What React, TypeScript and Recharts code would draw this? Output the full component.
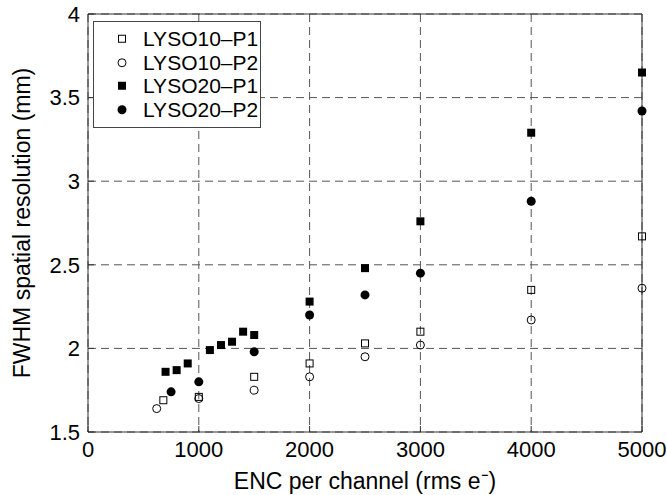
import React from 'react';
import {
  ScatterChart,
  Scatter,
  XAxis,
  YAxis,
  CartesianGrid,
  Legend,
  Label
} from 'recharts';

// Values
const encTicks = [0, 1000, 2000, 3000, 4000, 5000];
const fwhmTicks = [1.5, 2, 2.5, 3, 3.5, 4];

const lyso10p1Enc = [680, 1000, 1500, 2000, 2500, 3000, 4000, 5000];
const lyso10p1Fwhm = [1.69, 1.71, 1.83, 1.91, 2.03, 2.1, 2.35, 2.67];

const lyso10p2Enc = [620, 1000, 1500, 2000, 2500, 3000, 4000, 5000];
const lyso10p2Fwhm = [1.64, 1.7, 1.75, 1.83, 1.95, 2.02, 2.17, 2.36];

const lyso20p1Enc = [700, 800, 900, 1100, 1200, 1300, 1400, 1500, 2000, 2500, 3000, 4000, 5000];
const lyso20p1Fwhm = [1.86, 1.87, 1.91, 1.99, 2.02, 2.04, 2.1, 2.08, 2.28, 2.48, 2.76, 3.29, 3.65];

const lyso20p2Enc = [750, 1000, 1500, 2000, 2500, 3000, 4000, 5000];
const lyso20p2Fwhm = [1.74, 1.8, 1.98, 2.2, 2.32, 2.45, 2.88, 3.42];

const toPoints = (xs: number[], ys: number[]) => xs.map((x, i) => ({ x, y: ys[i] }));

// marker drawers
const openSquare = (cx: number, cy: number) => (
  <rect x={cx - 3.5} y={cy - 3.5} width={7} height={7} fill="none" stroke="#000" strokeWidth={1} />
);
const openCircle = (cx: number, cy: number) => (
  <circle cx={cx} cy={cy} r={4} fill="none" stroke="#000" strokeWidth={1} />
);
const filledSquare = (cx: number, cy: number) => (
  <rect x={cx - 4} y={cy - 4} width={8} height={8} fill="#000" />
);
const filledCircle = (cx: number, cy: number) => (
  <circle cx={cx} cy={cy} r={4.5} fill="#000" />
);

const series = [
  { name: 'LYSO10\u2013P1', data: toPoints(lyso10p1Enc, lyso10p1Fwhm), draw: openSquare },
  { name: 'LYSO10\u2013P2', data: toPoints(lyso10p2Enc, lyso10p2Fwhm), draw: openCircle },
  { name: 'LYSO20\u2013P1', data: toPoints(lyso20p1Enc, lyso20p1Fwhm), draw: filledSquare },
  { name: 'LYSO20\u2013P2', data: toPoints(lyso20p2Enc, lyso20p2Fwhm), draw: filledCircle }
];

const axisColor = '#333';
const tickStyle = { fill: '#000', fontSize: 22 };

const renderLegend = () => (
  <div
    style={{
      width: 166,
      height: 100,
      border: '1px solid #444',
      background: '#fff',
      paddingTop: 5,
      boxSizing: 'content-box'
    }}
  >
    {series.map(s => (
      <div key={s.name} style={{ display: 'flex', alignItems: 'center', height: 23.5 }}>
        <svg width={49} height={23.5} style={{ flex: 'none' }}>
          {s.draw(28, 11.75)}
        </svg>
        <span style={{ fontSize: 21, color: '#000', lineHeight: '23.5px', whiteSpace: 'nowrap' }}>
          {s.name}
        </span>
      </div>
    ))}
  </div>
);

const App: React.FC = () => {
  return (
    <div
      style={{
        position: 'absolute',
        left: 0,
        top: 0,
        width: 667,
        height: 495,
        background: '#fff',
        fontFamily: "'Liberation Sans', Arial, Helvetica, sans-serif"
      }}
    >
      <ScatterChart width={667} height={495} margin={{ top: 0, right: 0, bottom: 0, left: 0 }}>
        <CartesianGrid
          xAxisId="bottom"
          yAxisId="left"
          stroke="#555"
          strokeDasharray="8 5"
        />
        <XAxis
          xAxisId="bottom"
          dataKey="x"
          type="number"
          domain={[0, 5000]}
          ticks={encTicks}
          height={63}
          tickSize={-6}
          tickMargin={15}
          stroke={axisColor}
          tick={tickStyle}
          interval={0}
        >
          <Label
            value={'ENC per channel (rms e\u207B)'}
            position="insideBottom"
            offset={6}
            style={{ fontSize: 23, fill: '#000' }}
          />
        </XAxis>
        <XAxis
          xAxisId="top"
          orientation="top"
          type="number"
          domain={[0, 5000]}
          ticks={encTicks}
          height={14}
          tickSize={-6}
          tick={false}
          stroke={axisColor}
          interval={0}
        />
        <YAxis
          yAxisId="left"
          dataKey="y"
          type="number"
          domain={[1.5, 4]}
          ticks={fwhmTicks}
          width={88}
          tickSize={-6}
          tickMargin={14}
          stroke={axisColor}
          tick={tickStyle}
          interval={0}
        >
          <Label
            value="FWHM spatial resolution (mm)"
            angle={-90}
            position="center"
            dx={-22}
            style={{ fontSize: 23, fill: '#000', textAnchor: 'middle' }}
          />
        </YAxis>
        <YAxis
          yAxisId="right"
          orientation="right"
          type="number"
          domain={[1.5, 4]}
          ticks={fwhmTicks}
          width={25}
          tickSize={-6}
          tick={false}
          stroke={axisColor}
          interval={0}
        />
        {series.map(s => (
          <Scatter
            key={s.name}
            name={s.name}
            data={s.data}
            xAxisId="bottom"
            yAxisId="left"
            isAnimationActive={false}
            shape={(p: any) => s.draw(p.cx, p.cy)}
          />
        ))}
        <Legend
          layout="vertical"
          align="center"
          verticalAlign="middle"
          wrapperStyle={{ left: 93, top: 21, width: 'auto' }}
          content={renderLegend}
        />
      </ScatterChart>
    </div>
  );
};

export default App;
